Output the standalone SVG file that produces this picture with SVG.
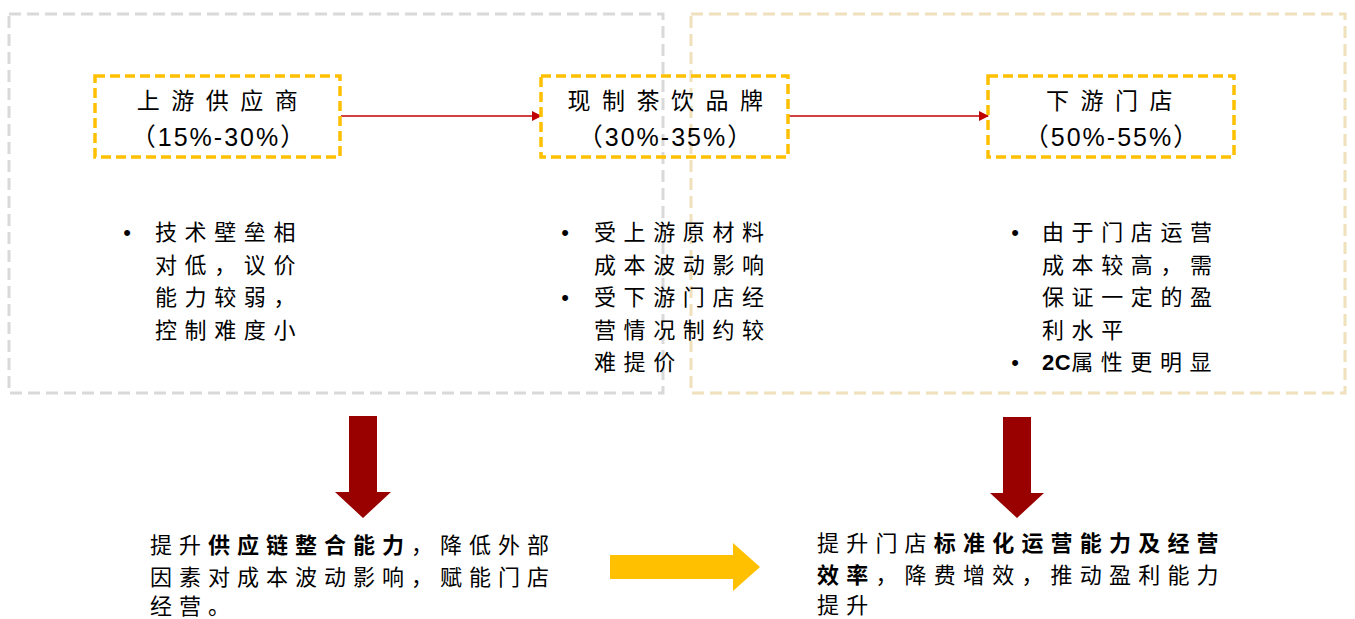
<svg xmlns="http://www.w3.org/2000/svg" width="1355" height="619" viewBox="0 0 1355 619">
<style>
.t{font-family:"Noto Sans CJK SC","Noto Sans",sans-serif;font-size:22px;fill:#000;}
.ttl{font-size:23px;letter-spacing:11.5px;text-anchor:middle;}
.pct{font-family:"Liberation Sans","Noto Sans CJK SC",sans-serif;font-size:25px;letter-spacing:2px;text-anchor:middle;fill:#000;}
.b{letter-spacing:7.6px;}
.bt{letter-spacing:7px;}
.br{letter-spacing:7.2px;}
.dot{font-family:"Liberation Sans",sans-serif;font-size:22px;text-anchor:middle;fill:#000;}
.bold{font-weight:bold;}
.grp{fill:none;stroke-width:3;stroke-dasharray:12 6;}
.node{fill:none;stroke:#ffc000;stroke-width:3.5;stroke-dasharray:10 5;}
.conn{stroke:#c00000;stroke-width:1.5;fill:none;}
.down{fill:#990000;}
</style>
<defs>
<marker id="ah" markerWidth="10" markerHeight="10" refX="9" refY="5" orient="auto" markerUnits="userSpaceOnUse">
<path d="M0,0 L10,5 L0,10 Z" fill="#c00000"/>
</marker>
</defs>
<rect width="1355" height="619" fill="#fff"/>

<g id="group-left"><rect class="grp" x="9" y="14" width="654" height="379" stroke="#d9d9d9"/></g>
<g id="group-right"><rect class="grp" x="691" y="14" width="654" height="379" stroke="#f0e0bc"/></g>

<g id="connectors">
<line class="conn" x1="341" y1="116" x2="541" y2="116" marker-end="url(#ah)"/>
<line class="conn" x1="788" y1="116" x2="988" y2="116" marker-end="url(#ah)"/>
</g>

<g id="node-upstream">
<rect class="node" x="95" y="76" width="245" height="81"/>
<text class="t ttl" x="223" y="109">上游供应商</text>
<text class="pct" x="219" y="146">（15%-30%）</text>
</g>
<g id="node-brand">
<rect class="node" x="541" y="76" width="247" height="81"/>
<text class="t ttl" x="671" y="109">现制茶饮品牌</text>
<text class="pct" x="666" y="146">（30%-35%）</text>
</g>
<g id="node-store">
<rect class="node" x="988" y="76" width="246" height="81"/>
<text class="t ttl" x="1115" y="109">下游门店</text>
<text class="pct" x="1112" y="146">（50%-55%）</text>
</g>

<g id="notes-upstream">
<text class="dot" x="127" y="240">•</text>
<text class="t b" x="155" y="240">技术壁垒相</text>
<text class="t b" x="155" y="273">对低，议价</text>
<text class="t b" x="155" y="305">能力较弱，</text>
<text class="t b" x="155" y="338">控制难度小</text>
</g>
<g id="notes-brand">
<text class="dot" x="565" y="240">•</text>
<text class="t b" x="594" y="240">受上游原材料</text>
<text class="t b" x="594" y="273">成本波动影响</text>
<text class="dot" x="565" y="305">•</text>
<text class="t b" x="594" y="305">受下游门店经</text>
<text class="t b" x="594" y="338">营情况制约较</text>
<text class="t b" x="594" y="370">难提价</text>
</g>
<g id="notes-store">
<text class="dot" x="1015" y="240">•</text>
<text class="t b" x="1042" y="240">由于门店运营</text>
<text class="t b" x="1042" y="273">成本较高，需</text>
<text class="t b" x="1042" y="305">保证一定的盈</text>
<text class="t b" x="1042" y="338">利水平</text>
<text class="dot" x="1015" y="370">•</text>
<text class="t b" x="1042" y="370"><tspan font-family="Liberation Sans" font-weight="bold" letter-spacing="0.5">2C</tspan>属性更明显</text>
</g>

<g id="arrow-down-left"><path class="down" d="M349,416 H377 V492 H391 L363,518 L335,492 H349 Z"/></g>
<g id="arrow-down-right"><path class="down" d="M1003,417 H1031 V493 H1044 L1017,518 L990,493 H1003 Z"/></g>
<g id="arrow-right"><path d="M610,555 H733 V543 L760,567 L733,591 V579 H610 Z" fill="#ffc000"/></g>

<g id="result-left">
<text class="t bt" x="150" y="553">提升<tspan class="bold">供应链整合能力</tspan>，降低外部</text>
<text class="t bt" x="150" y="585">因素对成本波动影响，赋能门店</text>
<text class="t bt" x="150" y="614">经营。</text>
</g>
<g id="result-right">
<text class="t br" x="817" y="551">提升门店<tspan class="bold">标准化运营能力及经营</tspan></text>
<text class="t br" x="817" y="583"><tspan class="bold">效率</tspan>，降费增效，推动盈利能力</text>
<text class="t br" x="817" y="613">提升</text>
</g>
</svg>
